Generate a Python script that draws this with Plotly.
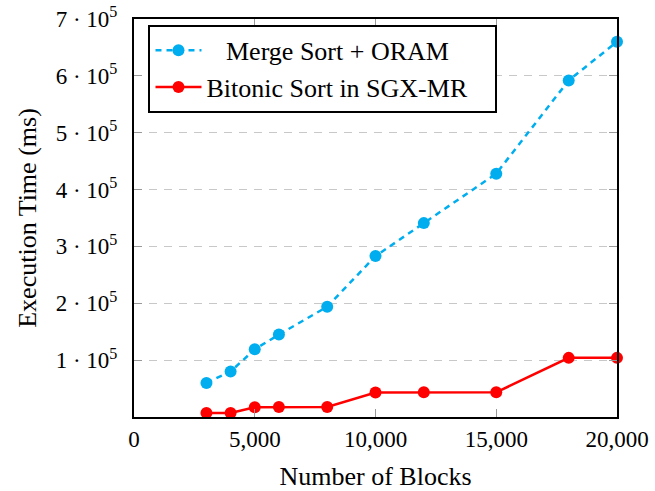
import plotly.graph_objects as go

blocks = [3000, 4000, 5000, 6000, 8000, 10000, 12000, 15000, 18000, 20000]
merge_oram = [60000, 80000, 119000, 145000, 194000, 283000, 341000, 428000, 592000, 660000]
bitonic_sgx = [7000, 7000, 17000, 17500, 17500, 43000, 43500, 43500, 104000, 104000]
x_ticks = [0, 5000, 10000, 15000, 20000]
y_ticks = [100000, 200000, 300000, 400000, 500000, 600000, 700000]
y_ticktext = [f"{v // 100000} · 10<sup>5</sup>" for v in y_ticks]

FONT = "Liberation Serif"
NB = "\u00a0"
fig = go.Figure()
fig.add_trace(go.Scatter(
    x=blocks, y=merge_oram, name=NB * 3 + "Merge Sort + ORAM", mode="lines+markers",
    line=dict(color="#00AEEF", width=2.5, dash="6px,5px"),
    marker=dict(symbol="circle", size=12, color="#00AEEF"), cliponaxis=False))
fig.add_trace(go.Scatter(
    x=blocks, y=bitonic_sgx, name="Bitonic Sort in SGX-MR", mode="lines+markers",
    line=dict(color="#FF0000", width=2.5),
    marker=dict(symbol="circle", size=12, color="#FF0000"), cliponaxis=False))

fig.update_layout(
    width=655, height=491,
    margin=dict(l=133.5, r=38, t=19, b=74),
    paper_bgcolor="white", plot_bgcolor="white",
    font=dict(family=FONT, size=22, color="black"),
    showlegend=True,
    legend=dict(x=0.03, y=0.875, xanchor="left", yanchor="middle",
                orientation="h",
                bordercolor="black", borderwidth=2, bgcolor="white",
                font=dict(family=FONT, size=26), itemwidth=46,
                entrywidth=284, entrywidthmode="pixels",
                tracegroupgap=0),
)
fig.update_xaxes(
    range=[0, 20000], tickvals=x_ticks, tickformat=",d", automargin=False,
    showline=True, linecolor="black", linewidth=2, mirror="ticks",
    ticks="inside", ticklen=8, tickcolor="#999999", tickwidth=1,
    showgrid=False, zeroline=False, ticklabelstandoff=0,
    title=dict(text="Number of Blocks", font=dict(family=FONT, size=26), standoff=18),
    tickfont=dict(family=FONT, size=23),
)
fig.update_yaxes(
    range=[0, 700000], tickvals=y_ticks, ticktext=y_ticktext, automargin=False,
    showline=True, linecolor="black", linewidth=2, mirror="ticks",
    ticks="inside", ticklen=8, tickcolor="#999999", tickwidth=1,
    showgrid=True, gridcolor="#c8c8c8", gridwidth=1, griddash="8px,7px",
    zeroline=False, ticklabelstandoff=10,
    title=dict(text="Execution Time (ms)", font=dict(family=FONT, size=26), standoff=12),
    tickfont=dict(family=FONT, size=23),
)
fig.write_html("out.html", config={"displayModeBar": False},
               post_script="document.body.style.margin='0';document.body.style.overflow='hidden';")
